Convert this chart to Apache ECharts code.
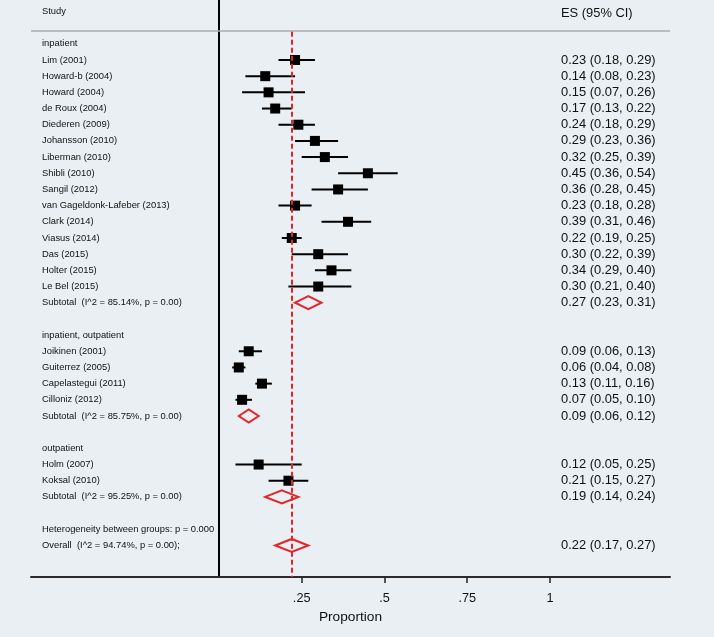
<!DOCTYPE html>
<html>
<head>
<meta charset="utf-8">
<script src="https://cdn.jsdelivr.net/npm/echarts@6/dist/echarts.min.js"></script>
<style>
html,body{margin:0;padding:0;background:#e9eff2;}
#chart{width:714px;height:637px;}
</style>
</head>
<body>
<div id="chart"></div>
<script>
// ---------- data ----------
const groupNames = ['inpatient', 'inpatient, outpatient', 'outpatient'];

const inpatientStudies = ['Lim (2001)', 'Howard-b (2004)', 'Howard (2004)', 'de Roux (2004)', 'Diederen (2009)',
  'Johansson (2010)', 'Liberman (2010)', 'Shibli (2010)', 'Sangil (2012)', 'van Gageldonk-Lafeber (2013)',
  'Clark (2014)', 'Viasus (2014)', 'Das (2015)', 'Holter (2015)', 'Le Bel (2015)'];
const inpatientES = [0.23, 0.14, 0.15, 0.17, 0.24, 0.29, 0.32, 0.45, 0.36, 0.23, 0.39, 0.22, 0.30, 0.34, 0.30];
const inpatientLo = [0.18, 0.08, 0.07, 0.13, 0.18, 0.23, 0.25, 0.36, 0.28, 0.18, 0.31, 0.19, 0.22, 0.29, 0.21];
const inpatientHi = [0.29, 0.23, 0.26, 0.22, 0.29, 0.36, 0.39, 0.54, 0.45, 0.28, 0.46, 0.25, 0.39, 0.40, 0.40];

const mixedStudies = ['Joikinen (2001)', 'Guiterrez (2005)', 'Capelastegui (2011)', 'Cilloniz (2012)'];
const mixedES = [0.09, 0.06, 0.13, 0.07];
const mixedLo = [0.06, 0.04, 0.11, 0.05];
const mixedHi = [0.13, 0.08, 0.16, 0.10];

const outpatientStudies = ['Holm (2007)', 'Koksal (2010)'];
const outpatientES = [0.12, 0.21];
const outpatientLo = [0.05, 0.15];
const outpatientHi = [0.25, 0.27];

const subtotalI2 = ['85.14%', '85.75%', '95.25%'];
const subtotalES = [0.27, 0.09, 0.19];
const subtotalLo = [0.23, 0.06, 0.14];
const subtotalHi = [0.31, 0.12, 0.24];

const overallI2 = '94.74%';
const overallES = 0.22;
const overallLo = 0.17;
const overallHi = 0.27;
const heterogeneityText = 'Heterogeneity between groups: p = 0.000';

const xTickValues = [0.25, 0.5, 0.75, 1];
const xTickLabels = ['.25', '.5', '.75', '1'];

// ---------- build rows ----------
const groups = [
  [inpatientStudies, inpatientES, inpatientLo, inpatientHi],
  [mixedStudies, mixedES, mixedLo, mixedHi],
  [outpatientStudies, outpatientES, outpatientLo, outpatientHi]
];
const fmt = (e, l, h) => e.toFixed(2) + ' (' + l.toFixed(2) + ', ' + h.toFixed(2) + ')';
const rows = [];
rows.push({label: 'Study', right: 'ES (95% CI)', kind: 'header'});
rows.push({label: '', kind: 'blank'});
groups.forEach((g, gi) => {
  rows.push({label: groupNames[gi], kind: 'text'});
  g[0].forEach((n, i) => rows.push({label: n, kind: 'study', es: g[1][i], lo: g[2][i], hi: g[3][i], right: fmt(g[1][i], g[2][i], g[3][i])}));
  rows.push({label: 'Subtotal  (I^2 = ' + subtotalI2[gi] + ', p = 0.00)', kind: 'diamond',
    es: subtotalES[gi], lo: subtotalLo[gi], hi: subtotalHi[gi], right: fmt(subtotalES[gi], subtotalLo[gi], subtotalHi[gi])});
  if (gi < groups.length - 1) rows.push({label: '', kind: 'blank'});
});
rows.push({label: '', kind: 'blank'});
rows.push({label: heterogeneityText, kind: 'text'});
rows.push({label: 'Overall  (I^2 = ' + overallI2 + ', p = 0.00);', kind: 'diamond',
  es: overallES, lo: overallLo, hi: overallHi, right: fmt(overallES, overallLo, overallHi)});

const labelRows = [], rightRows = [], ciData = [], boxData = [], diamondData = [];
rows.forEach((r, i) => {
  if (r.label) labelRows.push(i);
  if (r.right) rightRows.push(i);
  if (r.kind === 'study') { ciData.push([i, r.lo, r.hi]); boxData.push([r.es, i]); }
  if (r.kind === 'diamond') diamondData.push([i, r.lo, r.es, r.hi]);
});

const RED = '#e3262b';
const X_MIN = -0.5676, X_MAX = 1.3625;
const Y_MIN = -0.707, Y_MAX = 34.95;
const SEP_ROW = 1.2;

const chart = echarts.init(document.getElementById('chart'), null, {renderer: 'canvas'});
chart.setOption({
  animation: false,
  backgroundColor: '#e9eff2',
  textStyle: {fontFamily: 'Liberation Sans, Arial, Helvetica, sans-serif'},
  grid: {left: 31, right: 44, top: 0, bottom: 60, containLabel: false, outerBoundsMode: 'none'},
  xAxis: {
    type: 'value', min: X_MIN, max: X_MAX,
    axisLine: {show: true, onZero: false, lineStyle: {color: '#2b2b2b', width: 2}},
    axisTick: {show: true, customValues: xTickValues, length: 6, lineStyle: {color: '#222', width: 1.5}},
    axisLabel: {show: true, customValues: xTickValues, margin: 15, color: '#111', fontSize: 12.7,
      formatter: v => xTickLabels[xTickValues.indexOf(v)]},
    splitLine: {show: false},
    name: 'Proportion', nameLocation: 'middle', nameGap: 31,
    nameTextStyle: {color: '#111', fontSize: 13.7}
  },
  yAxis: [{
    type: 'value', inverse: true, min: Y_MIN, max: Y_MAX, position: 'left',
    axisLine: {show: true, onZero: true, lineStyle: {color: '#000', width: 2}},
    axisTick: {show: false},
    splitLine: {show: false},
    axisLabel: {show: true, customValues: labelRows, align: 'left', margin: -11, color: '#111', fontSize: 9.4,
      formatter: v => rows[v] ? rows[v].label : ''}
  }, {
    type: 'value', inverse: true, min: Y_MIN, max: Y_MAX, position: 'right', offset: -109,
    axisLine: {show: false, onZero: false},
    axisTick: {show: false},
    splitLine: {show: false},
    axisLabel: {show: true, customValues: rightRows, align: 'left', margin: 0, color: '#111', fontSize: 12.9,
      formatter: v => {
        const r = rows[v];
        if (!r) return '';
        return r.kind === 'header' ? '{h|' + r.right + '}' : r.right;
      },
      rich: {h: {fontSize: 12.9, color: '#111', padding: [5, 0, 0, 0]}}
    }
  }],
  series: [
    {
      type: 'scatter', data: [], silent: true, z: 1,
      markLine: {
        silent: true, symbol: 'none', animation: false,
        label: {show: false},
        data: [
          [{coord: [X_MIN, SEP_ROW], lineStyle: {color: '#a8adb1', width: 1.5, type: 'solid'}}, {coord: [X_MAX, SEP_ROW]}],
          [{coord: [overallES, SEP_ROW + 0.05], lineStyle: {color: RED, width: 2, type: [5, 3]}}, {coord: [overallES, Y_MAX]}]
        ]
      }
    },
    {
      type: 'custom', z: 3, silent: true,
      data: ciData,
      encode: {x: [1, 2], y: 0},
      renderItem: (params, api) => {
        const a = api.coord([api.value(1), api.value(0)]);
        const b = api.coord([api.value(2), api.value(0)]);
        return {type: 'line', shape: {x1: a[0], y1: a[1], x2: b[0], y2: b[1]}, style: {stroke: '#000', lineWidth: 2}};
      }
    },
    {
      type: 'scatter', z: 4, silent: true,
      data: boxData, symbol: 'rect', symbolSize: 10,
      itemStyle: {color: '#000', opacity: 1}
    },
    {
      type: 'custom', z: 5, silent: true,
      data: diamondData,
      encode: {x: [1, 2, 3], y: 0},
      renderItem: (params, api) => {
        const y = api.value(0);
        const l = api.coord([api.value(1), y]);
        const m = api.coord([api.value(2), y]);
        const h = api.coord([api.value(3), y]);
        const d = 6.5;
        return {type: 'polygon',
          shape: {points: [[l[0], l[1]], [m[0], m[1] - d], [h[0], h[1]], [m[0], m[1] + d]]},
          style: {stroke: RED, fill: 'none', lineWidth: 2}};
      }
    }
  ]
});
</script>
</body>
</html>
